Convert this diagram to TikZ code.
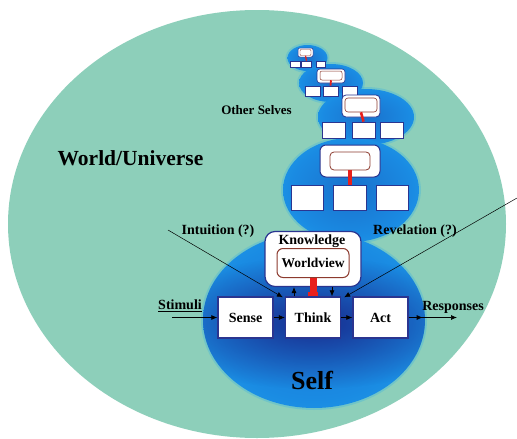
\documentclass[tikz,border=0pt]{standalone}
\usepackage{fontspec}
\setmainfont{Liberation Serif}
\usetikzlibrary{arrows.meta,fadings}

\definecolor{universe}{HTML}{8DCFBA}
\definecolor{blobdark}{HTML}{17268A}
\definecolor{blobmid}{HTML}{1A8AE2}
\definecolor{blobedge}{HTML}{20AAEE}
\definecolor{boxline}{HTML}{2A3590}
\definecolor{wvline}{HTML}{8C3A2E}
\definecolor{linkred}{HTML}{E8201C}

% body of each glow: deeper blue inside, bright cyan rim
\pgfdeclareradialshading{selfglow}{\pgfpoint{0bp}{0bp}}{%
  color(0bp)=(blobmid!80!blobdark); color(22bp)=(blobmid);
  color(42bp)=(blobedge); color(50bp)=(blobedge)}
\pgfdeclareradialshading{otherglow}{\pgfpoint{0bp}{0bp}}{%
  color(0bp)=(blobmid!75!blobdark); color(22bp)=(blobmid);
  color(40bp)=(blobedge); color(50bp)=(blobedge)}
% dark core that fades out around the thinking boxes
\tikzfading[name=corefade, inner color=transparent!0, outer color=transparent!100]

\newcommand\glowhalo[4]{%
  \fill[blobedge,opacity=.25] (#1,#2) ellipse [x radius=#3pt+2pt, y radius=#4pt+2pt];}
\newcommand\glowbody[5]{%
  \shade[shading=#5] (#1,#2) ellipse [x radius=#3pt, y radius=#4pt];}

\tikzset{
  lab/.style={font=\bfseries\fontsize{14}{16}\selectfont, inner sep=0pt},
  mainbox/.style={draw=boxline, line width=1.3pt, fill=white, inner sep=0pt,
    minimum width=55pt, minimum height=41pt, font=\bfseries\fontsize{14}{16}\selectfont},
  card/.style={draw=boxline, fill=white, inner sep=0pt},
  viewbox/.style={draw=wvline, fill=white, inner sep=0pt},
  unitbox/.style={draw=boxline, fill=white, inner sep=0pt},
  redlink/.style={draw=linkred},
  link/.style={draw=black, line width=0.7pt, -{Latex[length=6pt,width=5pt]}},
  thin link/.style={draw=black, line width=0.5pt, -{Latex[length=6pt,width=5pt]}}
}

\begin{document}
\begin{tikzpicture}[x=1pt,y=-1pt]
\useasboundingbox (0,0) rectangle (517,439);
\fill[white] (0,0) rectangle (517,439);

% the world / universe
\fill[universe] (257,224) ellipse [x radius=249pt, y radius=214pt];

% glows: soft rims first, then bodies from far to near
\glowhalo{307.5}{58}{20}{13}
\glowhalo{331}{83}{32}{19}
\glowhalo{366}{117}{48}{28}
\glowhalo{351}{190}{68}{52}
\glowhalo{314}{320}{111}{88}
\glowbody{307.5}{58}{20}{13}{otherglow}
\glowbody{331}{83}{32}{19}{otherglow}
\glowbody{366}{117}{48}{28}{otherglow}
\glowbody{351}{190}{68}{52}{otherglow}
\glowbody{314}{320}{111}{88}{selfglow}
\begin{scope}
  \clip (314,320) ellipse [x radius=111pt, y radius=88pt];
  \fill[blobdark, opacity=.9, path fading=corefade] (313,323) ellipse [x radius=170pt, y radius=66pt];
\end{scope}

% ---- farthest other self
\node[card, line width=0.5pt, rounded corners=2pt, minimum width=15pt, minimum height=9pt] (u5top) at (305.5,52.5) {};
\node[viewbox, line width=0.4pt, rounded corners=1pt, minimum width=11pt, minimum height=6pt] (u5view) at (305.5,52.5) {};
\node[unitbox, line width=0.5pt, minimum width=10pt, minimum height=6pt] (u5a) at (295,64) {};
\node[unitbox, line width=0.5pt, minimum width=10pt, minimum height=6pt] (u5b) at (306.5,64) {};
\node[unitbox, line width=0.5pt, minimum width=9pt, minimum height=6pt] (u5c) at (321,64) {};
\draw[redlink, line width=1.2pt] (u5view.south) -- (u5b.north);

% ---- third other self
\node[card, line width=0.6pt, rounded corners=3pt, minimum width=28pt, minimum height=14pt] (u4top) at (331,76) {};
\node[viewbox, line width=0.5pt, rounded corners=2pt, minimum width=22pt, minimum height=9pt] (u4view) at (331,75.5) {};
\node[unitbox, line width=0.6pt, minimum width=15pt, minimum height=10pt] (u4a) at (312.5,91) {};
\node[unitbox, line width=0.6pt, minimum width=15pt, minimum height=10pt] (u4b) at (330.5,91) {};
\node[unitbox, line width=0.6pt, minimum width=15pt, minimum height=10pt] (u4c) at (349.5,91) {};
\draw[redlink, line width=1.8pt] (u4view.south) -- (u4b.north);

% ---- second other self
\node[card, line width=0.8pt, rounded corners=4pt, minimum width=38pt, minimum height=22pt] (u3top) at (361,106) {};
\node[viewbox, line width=0.6pt, rounded corners=3pt, minimum width=32pt, minimum height=14pt] (u3view) at (361,105) {};
\node[unitbox, line width=0.8pt, minimum width=23pt, minimum height=16pt] (u3a) at (333.5,130) {};
\node[unitbox, line width=0.8pt, minimum width=23pt, minimum height=16pt] (u3b) at (363.5,130) {};
\node[unitbox, line width=0.8pt, minimum width=23pt, minimum height=16pt] (u3c) at (391.5,130) {};
\draw[redlink, line width=2.6pt] (u3view.south) -- (u3b.north);

% ---- nearest other self
\node[card, line width=1pt, rounded corners=6pt, minimum width=60pt, minimum height=32pt] (u2top) at (350,161) {};
\node[viewbox, line width=0.8pt, rounded corners=4pt, minimum width=40pt, minimum height=18pt] (u2view) at (350,161) {};
\node[unitbox, line width=1pt, minimum width=32pt, minimum height=25pt] (u2a) at (307.5,197.5) {};
\node[unitbox, line width=1pt, minimum width=33pt, minimum height=25pt] (u2b) at (350,197.5) {};
\node[unitbox, line width=1pt, minimum width=32pt, minimum height=25pt] (u2c) at (392.5,197.5) {};
\draw[redlink, line width=4pt] (u2view.south) -- (u2b.north);

% ---- the self
\node[card, line width=1.2pt, rounded corners=10pt, minimum width=96pt, minimum height=55pt] (know) at (313,259) {};
\node[lab] (knowlab) at (312,242) {\underline{Knowledge}};
\node[viewbox, line width=1pt, rounded corners=6pt, minimum width=72pt, minimum height=29pt,
      font=\bfseries\fontsize{13.5}{16}\selectfont] (wv) at (313,263) {Worldview};
\node[mainbox] (sense) at (245.5,317.5) {Sense};
\node[mainbox] (think) at (313,317.5) {Think};
\node[mainbox] (act) at (380.5,317.5) {Act};
\draw[redlink, line width=7pt] (wv.south) -- (think.north);
\fill[linkred] ([xshift=-5pt,yshift=4pt]think.north) rectangle ([xshift=5pt]think.north);

% flow through the self
\coordinate (stim) at (172,317.5);
\coordinate (resp) at (457,317.5);
\draw[link] (stim) -- (sense);
\draw[link] (sense) -- (think);
\draw[link] (think) -- (act);
\draw[link] (act) -- (resp);
\draw[link] (act.east) -- ++(14,0);
\draw[link] ([xshift=-19pt]think.north) -- ([xshift=-19pt]know.south);
\draw[link] ([xshift=19pt]know.south) -- ([xshift=19pt]think.north);

% outside sources
\coordinate (intu) at (168,230);
\coordinate (revel) at (517,198);
\draw[thin link] (intu) -- ([shift={(-2pt,-1pt)}]think.north west);
\draw[thin link] (revel) -- ([shift={(3pt,-1pt)}]think.north east);

% labels
\node[lab] (stimlab) at (180,306) {\underline{Stimuli}};
\node[lab] (resplab) at (453,307) {Responses};
\node[lab] (intulab) at (218,231) {Intuition (?)};
\node[lab] (revlab) at (415,231.5) {Revelation (?)};
\node[lab, font=\bfseries\fontsize{13}{15}\selectfont] (otherlab) at (256.5,110) {Other Selves};
\node[lab, font=\bfseries\fontsize{21.5}{24}\selectfont] (worldlab) at (130.5,158) {World/Universe};
\node[lab, font=\bfseries\fontsize{26}{28}\selectfont] (selflab) at (312,380) {Self};
\end{tikzpicture}
\end{document}
